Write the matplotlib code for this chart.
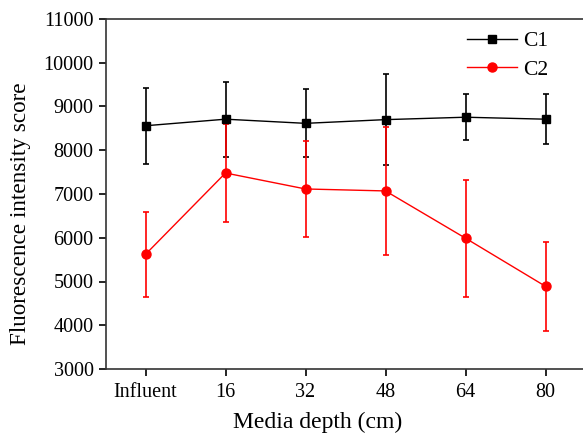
import numpy as np
import matplotlib
matplotlib.use('Agg')
import matplotlib.pyplot as plt
from matplotlib.lines import Line2D

plt.rcParams['font.family'] = ['Liberation Serif', 'DejaVu Serif']

# data
depth_labels = ['Influent', '16', '32', '48', '64', '80']
c1_mean = [8560, 8710, 8615, 8700, 8755, 8710]
c1_err = [865, 860, 775, 1035, 530, 565]
c2_mean = [5620, 7480, 7115, 7070, 5990, 4890]
c2_err = [970, 1120, 1105, 1460, 1340, 1015]

x = np.arange(1, len(depth_labels) + 1)

fig = plt.figure(figsize=(5.83, 4.33), dpi=100)
# axes runs off the right edge like the original
ax = fig.add_axes([105.5 / 583, 1 - 369 / 433, 480 / 583, 350 / 433])

ax.errorbar(x, c1_mean, yerr=c1_err, color='black', marker='s', markersize=5.5,
            linewidth=1, elinewidth=1.2, capsize=2.2, capthick=1.2)
ax.errorbar(x, c2_mean, yerr=c2_err, color='red', marker='o', markersize=6.5,
            linewidth=1, elinewidth=1.2, capsize=2.2, capthick=1.2)

ax.set_xlim(0.5, 6.5)
ax.set_ylim(3000, 11000)
ax.set_xticks(x)
ax.set_xticklabels(depth_labels)
ax.set_yticks(np.arange(3000, 11001, 1000))
ax.tick_params(direction='out', length=5, width=1.2, labelsize=14.5, colors='black')
ax.tick_params(axis='x', pad=5)
for s in ['left', 'bottom', 'top', 'right']:
    ax.spines[s].set_linewidth(1.2)
    ax.spines[s].set_color('#333333')

ax.set_xlabel('Media depth (cm)', fontsize=17)
ax.set_ylabel('Fluorescence intensity score', fontsize=16.7)
ax.xaxis.set_label_coords((318 - 105.5) / 480, -(412 - 369) / 350)
ax.yaxis.set_label_coords(-(105.5 - 31) / 480, (369 - 214) / 350)

# legend shows line + marker only, no error bars
handles = [Line2D([], [], color='black', marker='s', markersize=5.5, linewidth=1),
           Line2D([], [], color='red', marker='o', markersize=6.5, linewidth=1)]
ax.legend(handles, ['C1', 'C2'], loc='upper left',
          bbox_to_anchor=(467 / 583, 1 - 31 / 433),
          bbox_transform=fig.transFigure, frameon=False, fontsize=15.5,
          handlelength=2.3, handletextpad=0.3, labelspacing=0.4,
          borderpad=0, borderaxespad=0)

fig.savefig('out.png', dpi=100)
